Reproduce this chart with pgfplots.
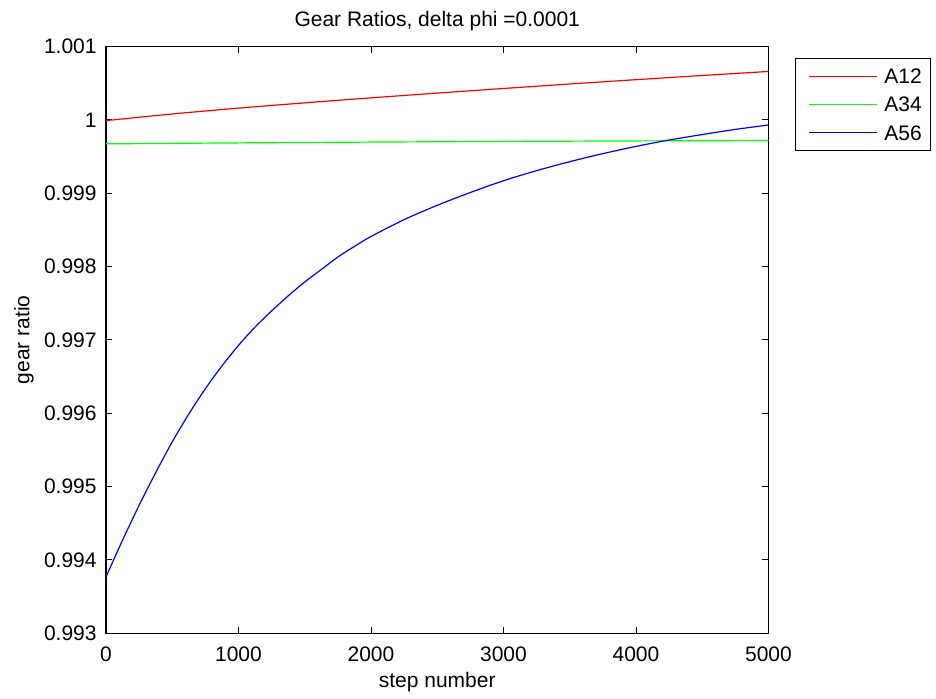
\documentclass[border=0pt]{standalone}
\usepackage{pgfplots}
\pgfplotsset{compat=1.18}
\usepackage{fontspec}
\setmainfont{Liberation Sans}
\begin{document}
\begin{tikzpicture}[font=\fontsize{10.5}{12.6}\selectfont]
\useasboundingbox (-53pt,-32.35pt) rectangle (415pt,316.65pt);
\begin{axis}[
  at={(0,0)}, anchor=south west,
  scale only axis, width=331.25pt, height=293.4pt,
  xmin=0, xmax=5000, ymin=0.993, ymax=1.001,
  xtick={0,1000,2000,3000,4000,5000},
  xticklabels={0,1000,2000,3000,4000,5000},
  ytick={0.993,0.994,0.995,0.996,0.997,0.998,0.999,1,1.001},
  yticklabels={0.993,0.994,0.995,0.996,0.997,0.998,0.999,1,1.001},
  tick align=inside, xtick pos=both, ytick pos=both,
  major tick length=3.2pt,
  every tick/.style={black, line width=0.5pt},
  axis line style={line width=0.8pt},
  xticklabel style={anchor=base, inner sep=0pt, yshift=-14.2pt},
  yticklabel style={anchor=east, inner sep=0pt, xshift=-4.5pt},
  title={Gear Ratios, delta phi =0.0001},
  title style={at={(axis description cs:0.5,1)}, anchor=base, inner sep=0pt, yshift=3.9pt},
  xlabel={step number},
  xlabel style={at={(axis description cs:0.5,0)}, anchor=base, inner sep=0pt, yshift=-27pt},
  ylabel={gear ratio},
  ylabel style={at={(axis description cs:0,0.5)}, anchor=base, inner sep=0pt, yshift=38.35pt},
  legend cell align=left,
  legend image code/.code={\path (0pt,0pt); \draw[#1] (2.15pt,0pt) -- (36pt,0pt);},
  legend style={at={(1,1)}, anchor=north west, xshift=13.25pt, yshift=-5.6pt,
    draw=black, line width=0.5pt, inner xsep=4.5pt, inner ysep=5.2pt,
    row sep=6.65pt, column sep=3.35pt,
    nodes={inner sep=0pt, text height=7.5pt, text depth=0pt}},
]
\addplot[red, line width=0.6pt, smooth] coordinates {
(0,0.99999) (500,1.00008) (1000,1.000160) (1500,1.000232) (2000,1.000300)
(2500,1.000365) (3000,1.000428) (3500,1.000489) (4000,1.000548) (4500,1.000605) (5000,1.000660)};
\addlegendentry{A12}
\addplot[green, line width=0.6pt, smooth] coordinates {
(0,0.999673) (1000,0.999686) (2000,0.999697) (3000,0.999706) (4000,0.999713) (5000,0.999718)};
\addlegendentry{A34}
\addplot[blue, line width=0.6pt, smooth] coordinates {
(0,0.99377) (125,0.99427) (250,0.994745) (375,0.99519) (500,0.99561)
(625,0.99599) (750,0.996335) (875,0.996645) (1000,0.996925)
(1125,0.997175) (1250,0.997395) (1375,0.99760) (1500,0.99779)
(1625,0.99796) (1750,0.99813) (1875,0.998275) (2000,0.99841)
(2250,0.99864) (2500,0.998835) (2750,0.999010) (3000,0.99917) (3250,0.999308) (3500,0.99943)
(3750,0.99954) (4000,0.999638) (4250,0.999725) (4500,0.99980) (4750,0.99987) (5000,0.99993)};
\addlegendentry{A56}
\end{axis}
\end{tikzpicture}
\end{document}
